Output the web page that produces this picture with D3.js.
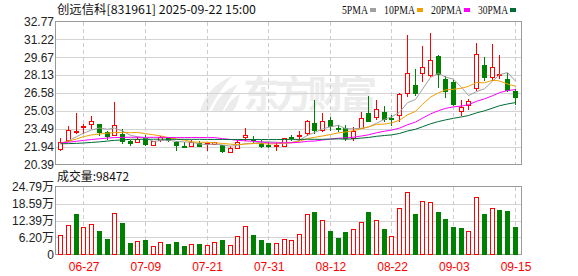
<!DOCTYPE html>
<html><head><meta charset="utf-8">
<script src="https://cdn.jsdelivr.net/npm/d3@7"></script>
<style>
body{margin:0;background:#fff;}
svg{display:block;font-family:Arial,"Liberation Sans","Noto Sans CJK SC",sans-serif;}
</style>
</head><body>
<svg id="chart" width="578" height="276"></svg>
<script>
const dates = ["06-24","06-25","06-26","06-27","06-30","07-01","07-02","07-03","07-04","07-07",
"07-08","07-09","07-10","07-11","07-14","07-15","07-16","07-17","07-18","07-21",
"07-22","07-23","07-24","07-25","07-28","07-29","07-30","07-31","08-01","08-04",
"08-05","08-06","08-07","08-08","08-11","08-12","08-13","08-14","08-15","08-18",
"08-19","08-20","08-21","08-22","08-25","08-26","08-27","08-28","08-29","09-01",
"09-02","09-03","09-04","09-05","09-08","09-09","09-10","09-11","09-12","09-15"];

const open = [21.75,22.49,23.30,23.70,23.91,23.90,23.18,22.98,23.04,22.46,
22.37,22.72,22.12,22.49,22.72,22.37,22.03,21.99,22.26,22.20,
22.16,22.07,21.49,21.83,22.77,22.63,22.26,22.12,22.09,22.03,
22.76,22.89,23.12,23.99,23.41,24.21,23.58,23.56,22.69,23.56,
24.85,24.50,24.94,24.44,24.64,26.58,27.29,28.30,28.16,29.79,
27.78,27.49,24.99,25.57,27.01,29.02,27.96,28.11,27.78,26.71];
const close = [22.31,23.35,23.33,23.72,24.13,23.21,22.83,23.80,22.46,22.26,
22.63,22.18,22.40,22.81,22.49,22.07,21.94,22.33,21.99,22.24,
22.31,21.54,21.81,22.35,22.98,22.49,22.00,21.99,22.12,22.69,
22.72,22.92,24.13,23.35,24.19,23.69,23.52,22.69,23.32,24.42,
24.19,25.20,24.36,24.36,26.49,28.30,26.58,28.82,29.45,28.24,
26.71,25.65,25.37,25.85,29.94,27.96,28.87,28.20,26.80,26.23];
const high = [22.69,23.69,24.85,23.93,24.56,23.93,23.32,25.83,23.45,22.50,
22.81,22.95,22.40,22.84,22.75,22.40,22.37,22.55,22.46,22.28,
22.35,22.10,21.97,22.49,23.56,22.83,22.55,22.37,22.31,22.69,
22.98,23.26,24.27,25.99,24.85,24.53,23.84,23.84,23.61,24.94,
26.28,25.99,25.42,24.70,26.58,31.61,28.67,30.68,31.75,29.85,
28.01,27.72,25.99,26.08,30.89,29.73,30.83,29.88,28.30,26.95];
const low = [21.62,22.45,23.13,23.15,23.56,22.98,22.63,22.98,22.26,22.09,
22.33,22.12,22.12,22.45,22.45,21.68,21.92,21.95,21.95,21.68,
22.14,21.50,21.47,21.81,22.55,22.31,21.92,21.94,21.68,21.97,
22.55,22.49,22.98,23.12,23.26,23.35,23.26,22.55,22.55,23.56,
24.13,24.33,24.19,23.84,24.13,26.28,26.43,27.58,28.01,27.09,
26.20,25.51,24.64,25.20,26.86,27.72,27.72,27.87,26.71,25.65];

const volume = [71900,107800,148400,99400,111400,86200,57500,150900,116100,40600,
50300,53900,31300,46700,39500,46700,32300,39500,39500,34800,
46700,53900,34800,67100,103100,71900,53900,43100,43100,56300,
52800,74300,147300,154500,124600,86200,61100,82600,92200,117400,
154500,124600,93400,67100,171300,228800,148400,196400,192800,154500,
129300,100600,97000,85000,210800,148400,171300,161700,158100,98472];

const ma5 = [22.20,22.45,22.80,23.10,23.37,23.55,23.44,23.54,23.29,22.91,
22.80,22.67,22.39,22.46,22.50,22.39,22.34,22.33,22.16,22.11,
22.16,22.08,21.98,22.05,22.20,22.23,22.33,22.36,22.32,22.26,
22.30,22.49,22.92,23.16,23.46,23.66,23.78,23.49,23.48,23.53,
23.63,23.96,24.30,24.51,24.92,25.74,26.02,26.91,27.93,28.28,
27.96,27.77,27.08,26.36,26.70,26.95,27.60,28.16,28.35,27.61];
const ma10 = [22.25,22.40,22.60,22.80,22.95,23.03,23.10,23.15,23.17,23.14,
23.17,23.06,22.96,22.87,22.71,22.59,22.50,22.36,22.31,22.31,
22.28,22.21,22.15,22.11,22.16,22.20,22.20,22.17,22.18,22.23,
22.27,22.41,22.64,22.74,22.86,22.98,23.13,23.20,23.32,23.50,
23.64,23.87,23.89,23.99,24.22,24.69,24.99,25.60,26.22,26.60,
26.85,26.90,27.00,27.15,27.49,27.46,27.69,27.62,27.36,27.16];
const ma20 = [22.26,22.32,22.40,22.48,22.55,22.62,22.68,22.72,22.74,22.75,
22.75,22.74,22.74,22.75,22.73,22.72,22.72,22.73,22.73,22.72,
22.72,22.63,22.56,22.49,22.43,22.40,22.35,22.26,22.25,22.27,
22.27,22.31,22.40,22.42,22.51,22.59,22.67,22.69,22.75,22.86,
22.96,23.14,23.27,23.37,23.54,23.83,24.06,24.40,24.77,25.05,
25.25,25.38,25.45,25.57,25.86,26.07,26.34,26.61,26.79,26.88];
const ma30 = [22.18,22.20,22.22,22.25,22.30,22.35,22.42,22.48,22.52,22.57,
22.57,22.58,22.58,22.58,22.58,22.57,22.57,22.57,22.57,22.56,
22.56,22.56,22.55,22.55,22.55,22.55,22.55,22.55,22.55,22.56,
22.57,22.56,22.58,22.57,22.57,22.59,22.61,22.58,22.61,22.68,
22.73,22.83,22.90,22.95,23.08,23.29,23.44,23.66,23.91,24.11,
24.25,24.39,24.51,24.63,24.86,25.04,25.27,25.48,25.63,25.75];

const priceTicks = [20.39,21.94,23.49,25.03,26.58,28.13,29.67,31.22,32.77];
const volTicks = [0,62000,123900,185900,247900];
const volTickLabels = ["0","6.20万","12.39万","18.59万","24.79万"];
const xTickDates = ["06-27","07-09","07-21","07-31","08-12","08-22","09-03","09-15"];
const maNames = ["5PMA","10PMA","20PMA","30PMA"];
const title = "创远信科[831961] 2025-09-22 15:00";
const volTitle = "成交量:98472";

const RED = "#ff0000", GREEN = "#008000";
const maColors = ["#a0a0a0","#f0a000","#ff00ff","#006b35"];
const maData = [ma5, ma10, ma20, ma30];

const svg = d3.select("#chart");
const L = 55.5, R = 521.5, PT = 21.5, PB = 164.5, VT = 186.5, VB = 254.5;

const x = d3.scaleBand().domain(d3.range(dates.length)).range([56.5, 518.5]);
const cx = i => Math.round(x(i) + x.bandwidth()/2);
const y = d3.scaleLinear().domain([20.39, 32.77]).range([PB, PT]);
const yv = d3.scaleLinear().domain([0, 247900]).range([VB, VT]);

// watermark
const wm = svg.append("g").attr("fill", "#ececec");
wm.append("path").attr("d","M200,112 C204,96 214,84 232,76 C222,88 214,100 208,112 Z");
wm.append("path").attr("d","M212,112 C216,100 224,90 238,84 C232,94 226,104 222,112 Z");
wm.append("path").attr("d","M224,112 C228,104 232,98 240,94 C238,102 236,108 232,112 Z");
wm.append("text").attr("x", 243).attr("y", 108).attr("font-size", 37).attr("font-weight", "bold")
  .attr("font-family", "'Noto Sans CJK SC'").attr("textLength", 134).text("东方财富");

// grids
const hg = svg.append("g").attr("stroke", "#d4d4d4").attr("shape-rendering", "crispEdges");
priceTicks.slice(1, -1).forEach(t => hg.append("line").attr("x1", L).attr("x2", R)
  .attr("y1", Math.round(y(t)) + 0.5).attr("y2", Math.round(y(t)) + 0.5));
volTicks.slice(1, -1).forEach(t => hg.append("line").attr("x1", L).attr("x2", R)
  .attr("y1", Math.round(yv(t)) + 0.5).attr("y2", Math.round(yv(t)) + 0.5));

const vg = svg.append("g").attr("stroke", "#cccccc").attr("stroke-dasharray", "4,3")
  .attr("shape-rendering", "crispEdges");
xTickDates.forEach(d => {
  const i = dates.indexOf(d);
  const xx = cx(i) + 0.5;
  vg.append("line").attr("x1", xx).attr("x2", xx).attr("y1", PT).attr("y2", PB);
  vg.append("line").attr("x1", xx).attr("x2", xx).attr("y1", VT).attr("y2", VB);
});

// frames
svg.append("rect").attr("x", L).attr("y", PT).attr("width", R - L).attr("height", PB - PT)
  .attr("fill", "none").attr("stroke", "#9a9a9a").attr("shape-rendering", "crispEdges");
svg.append("rect").attr("x", L).attr("y", VT).attr("width", R - L).attr("height", VB - VT)
  .attr("fill", "none").attr("stroke", "#9a9a9a").attr("shape-rendering", "crispEdges");

// candles
const bw = 5;
const cg = svg.append("g").attr("shape-rendering", "crispEdges");
dates.forEach((d, i) => {
  const up = close[i] > open[i];
  const col = up ? RED : GREEN;
  const xc = cx(i) + 0.5;
  cg.append("line").attr("x1", xc).attr("x2", xc)
    .attr("y1", Math.round(y(high[i]))).attr("y2", Math.round(y(low[i])) + 1).attr("stroke", col);
  const top = Math.round(y(Math.max(open[i], close[i])));
  const bot = Math.round(y(Math.min(open[i], close[i])));
  const h = Math.max(bot - top, 1);
  if (up) {
    cg.append("rect").attr("x", cx(i) - 2 + 0.5).attr("y", top + 0.5).attr("width", bw - 1).attr("height", h)
      .attr("fill", "#fff").attr("stroke", col);
  } else {
    cg.append("rect").attr("x", cx(i) - 2).attr("y", top).attr("width", bw).attr("height", h + 1)
      .attr("fill", col);
  }
});

// MA lines
maData.forEach((arr, k) => {
  svg.append("path").datum(arr)
    .attr("fill", "none").attr("stroke", maColors[k]).attr("stroke-width", 1)
    .attr("d", d3.line().x((v, i) => cx(i) + 0.5).y(v => y(v)));
});

// volume bars
const vbg = svg.append("g").attr("shape-rendering", "crispEdges");
dates.forEach((d, i) => {
  const up = i === 0 ? true : close[i] >= close[i - 1];
  const top = Math.round(yv(volume[i]));
  if (up) {
    vbg.append("rect").attr("x", cx(i) - 2 + 0.5).attr("y", top + 0.5).attr("width", bw - 1)
      .attr("height", Math.max(VB - 0.5 - top - 0.5, 1)).attr("fill", "#fff").attr("stroke", RED);
  } else {
    vbg.append("rect").attr("x", cx(i) - 2).attr("y", top).attr("width", bw)
      .attr("height", VB - top).attr("fill", GREEN);
  }
});

// axes
const ay = svg.append("g").attr("transform", "translate(54,0)")
  .call(d3.axisLeft(y).tickValues(priceTicks).tickSize(0).tickPadding(0).tickFormat(d3.format(".2f")));
ay.select(".domain").remove();
ay.selectAll("text").attr("font-size", 12).attr("fill", "#222").attr("font-family", "Arial,'Liberation Sans'");

const ayv = svg.append("g").attr("transform", "translate(54,0)")
  .call(d3.axisLeft(yv).tickValues(volTicks).tickSize(0).tickPadding(0)
    .tickFormat((v, i) => volTickLabels[i]));
ayv.select(".domain").remove();
ayv.selectAll("text").attr("font-size", 12).attr("fill", "#222").attr("font-family", "Arial,'Liberation Sans','Noto Sans CJK SC'");

const ax = svg.append("g").attr("transform", "translate(0," + 262 + ")")
  .call(d3.axisBottom(d3.scalePoint().domain(dates).range([cx(0) + 0.5, cx(dates.length - 1) + 0.5]))
    .tickValues(xTickDates).tickSize(0).tickPadding(0));
ax.select(".domain").remove();
ax.selectAll("text").attr("font-size", 12).attr("fill", RED).attr("font-family", "Arial,'Liberation Sans'");

// titles
svg.append("text").attr("x", 57).attr("y", 14).attr("font-size", 12).attr("fill", "#111")
  .attr("font-family", "'Noto Sans CJK SC',Arial").attr("textLength", 199).attr("lengthAdjust", "spacingAndGlyphs")
  .text(title);
svg.append("text").attr("x", 57).attr("y", 181).attr("font-size", 12).attr("fill", "#111")
  .attr("font-family", "'Noto Sans CJK SC',Arial").attr("textLength", 72).attr("lengthAdjust", "spacingAndGlyphs")
  .text(volTitle);

// legend
const legX = [342, 384, 431, 478];
const legW = [26, 31, 31, 30];
maNames.forEach((n, k) => {
  svg.append("text").attr("x", legX[k]).attr("y", 14).attr("font-size", 12).attr("fill", "#111")
    .attr("font-family", "'Liberation Serif','DejaVu Serif',serif")
    .attr("textLength", legW[k]).attr("lengthAdjust", "spacingAndGlyphs").text(n);
  svg.append("rect").attr("x", legX[k] + legW[k] + 2).attr("y", 8).attr("width", 6).attr("height", 4)
    .attr("fill", maColors[k]);
});
</script>
</body></html>
